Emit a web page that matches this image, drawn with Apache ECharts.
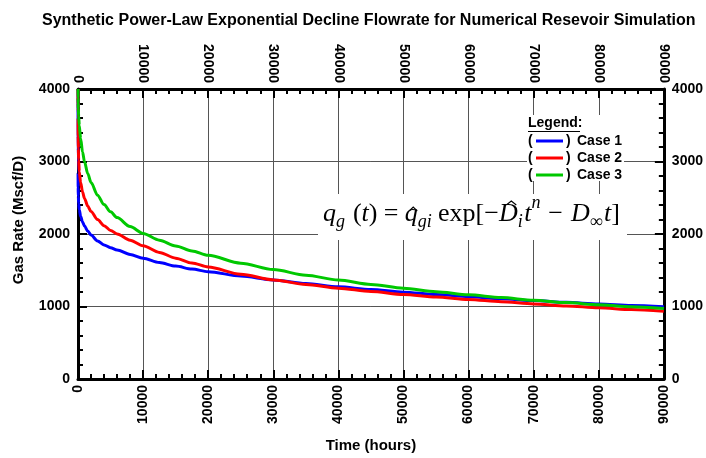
<!DOCTYPE html>
<html>
<head>
<meta charset="utf-8">
<script src="https://cdn.jsdelivr.net/npm/echarts@6/dist/echarts.min.js"></script>
<style>html,body{margin:0;padding:0;background:#fff}#c{width:706px;height:458px}</style>
</head>
<body>
<div id="c"></div>
<script>
const times = [0, 10, 25, 50, 100, 200, 400, 700, 1000, 1500, 2000, 3000, 4000, 5000, 6000, 8000, 10000, 12500, 15000, 17500, 20000, 25000, 30000, 35000, 40000, 45000, 50000, 55000, 60000, 65000, 70000, 75000, 80000, 85000, 90000];
const case1 = [4000, 2850, 2640, 2520, 2420, 2335, 2245, 2165, 2110, 2040, 1985, 1905, 1850, 1812, 1780, 1718, 1665, 1607, 1557, 1516, 1480, 1420, 1366, 1317, 1273, 1234, 1198, 1165, 1135, 1107, 1082, 1058, 1035, 1014, 995];
const case2 = [4000, 3600, 3350, 3180, 3020, 2860, 2710, 2580, 2490, 2385, 2310, 2200, 2115, 2050, 2000, 1915, 1838, 1746, 1667, 1601, 1545, 1445, 1367, 1305, 1253, 1207, 1166, 1130, 1097, 1066, 1036, 1008, 982, 957, 933];
const case3 = [4000, 3877, 3802, 3727, 3627, 3497, 3317, 3131, 2996, 2831, 2711, 2536, 2406, 2306, 2226, 2102, 2008, 1915, 1835, 1766, 1706, 1598, 1510, 1432, 1365, 1305, 1251, 1204, 1162, 1123, 1087, 1054, 1024, 997, 972];
const seriesNames = ['Case 1', 'Case 2', 'Case 3'];
const seriesColors = ['#0000ff', '#ff0000', '#00c800'];
const xTicks = {min: 0, max: 90000, interval: 10000};
const yTicks = {min: 0, max: 4000, interval: 1000};

const chart = echarts.init(document.getElementById('c'), null, {renderer: 'canvas'});
const FONT = 'Liberation Sans';
const SERIF = 'Liberation Serif';
const lab = {fontFamily: FONT, fontWeight: 'bold', fontSize: 14, color: '#000', formatter: v => String(v)};
function xAxisCfg(pos, grid) {
  return {
    type: 'value', position: pos, min: xTicks.min, max: xTicks.max, interval: xTicks.interval,
    axisLine: {show: true, onZero: false, lineStyle: {color: '#000', width: 3}},
    axisTick: {show: true, inside: true, length: 9, lineStyle: {color: '#000', width: 2}},
    minorTick: {show: true, splitNumber: 5, length: 5, lineStyle: {color: '#000', width: 2}},
    axisLabel: Object.assign({rotate: 90, margin: 6, showMinLabel: true, showMaxLabel: true}, lab),
    splitLine: {show: grid, lineStyle: {color: '#555', width: 1}},
    name: pos === 'bottom' ? 'Time (hours)' : '',
    nameLocation: 'middle', nameGap: 59,
    nameTextStyle: {fontFamily: FONT, fontWeight: 'bold', fontSize: 15, color: '#000'}
  };
}
function yAxisCfg(pos, grid) {
  return {
    type: 'value', position: pos, min: yTicks.min, max: yTicks.max, interval: yTicks.interval,
    axisLine: {show: true, onZero: false, lineStyle: {color: '#000', width: 3}},
    axisTick: {show: true, inside: true, length: 9, lineStyle: {color: '#000', width: 2}},
    minorTick: {show: true, splitNumber: 5, length: 5, lineStyle: {color: '#000', width: 2}},
    axisLabel: Object.assign({margin: 8, showMinLabel: true, showMaxLabel: true}, lab),
    splitLine: {show: grid, lineStyle: {color: '#555', width: 1}}
  };
}
const caseData = [case1, case2, case3];
const series = caseData.map((arr, i) => ({
  name: seriesNames[i], type: 'line', xAxisIndex: 0, yAxisIndex: 0,
  data: times.map((t, k) => [t, arr[k]]),
  showSymbol: false, smooth: 0.3, smoothMonotone: 'x',
  lineStyle: {color: seriesColors[i], width: 3}, itemStyle: {color: seriesColors[i]}, z: 5
}));

// Legend (custom graphic)
const LF = 'bold 14px ' + FONT;
const legendEls = [
  {type: 'rect', shape: {x: 527, y: 115, width: 97, height: 66}, style: {fill: '#fff'}, z: 3},
  {type: 'text', x: 528, y: 123, style: {text: 'Legend:', font: LF, fill: '#000', verticalAlign: 'middle'}, z: 4},
  {type: 'line', shape: {x1: 528, y1: 131.5, x2: 580, y2: 131.5}, style: {stroke: '#000', lineWidth: 1}, z: 4}
];
seriesNames.forEach((nm, i) => {
  const yy = 141 + i * 17;
  legendEls.push({type: 'text', x: 528, y: yy, style: {text: '(', font: LF, fill: '#000', verticalAlign: 'middle'}, z: 4});
  legendEls.push({type: 'line', shape: {x1: 536, y1: yy, x2: 563, y2: yy}, style: {stroke: seriesColors[i], lineWidth: 3}, z: 4});
  legendEls.push({type: 'text', x: 566, y: yy, style: {text: ')', font: LF, fill: '#000', verticalAlign: 'middle'}, z: 4});
  legendEls.push({type: 'text', x: 577, y: yy, style: {text: nm, font: LF, fill: '#000', verticalAlign: 'middle'}, z: 4});
});

// Formula laid out sequentially using measured widths
const MAIN = 26, SUB = 18;
const BASE = 223;
const pieces = [
  {t: 'q', s: MAIN, it: true, dy: 0},
  {t: 'g', s: SUB, it: true, dy: 5},
  {gap: 5},
  {t: '(', s: MAIN, it: false, dy: 0},
  {t: 't', s: MAIN, it: true, dy: 0},
  {t: ')', s: MAIN, it: false, dy: 0},
  {gap: 4},
  {t: '=', s: MAIN, it: false, dy: 0},
  {gap: 4},
  {t: 'q', s: MAIN, it: true, dy: 0, hat: 'low'},
  {t: 'gi', s: SUB, it: true, dy: 5},
  {gap: 4},
  {t: 'exp[\u2212', s: MAIN, it: false, dy: 0},
  {t: 'D', s: MAIN, it: true, dy: 0, hat: 'high'},
  {t: 'i', s: SUB, it: true, dy: 5},
  {gap: 1},
  {t: 't', s: MAIN, it: true, dy: 0},
  {t: 'n', s: SUB, it: true, dy: -14},
  {gap: 5},
  {t: '\u2212', s: MAIN, it: false, dy: 0},
  {gap: 5},
  {t: 'D', s: MAIN, it: true, dy: 0},
  {t: '\u221E', s: SUB, it: false, dy: 5},
  {gap: 1},
  {t: 't', s: MAIN, it: true, dy: 0},
  {t: ']', s: MAIN, it: false, dy: 0}
];
const cv = document.createElement('canvas').getContext('2d');
function fontOf(p) { return (p.it ? 'italic ' : '') + p.s + 'px ' + SERIF; }
let natural = 0, gapsTotal = 0;
pieces.forEach(p => {
  if (p.gap !== undefined) { gapsTotal += p.gap; return; }
  cv.font = fontOf(p); p.w = cv.measureText(p.t).width; natural += p.w;
});
const X0 = 323, X1 = 620;
const gapScale = Math.max(0.3, (X1 - X0 - natural) / gapsTotal);
const formulaEls = [
  {type: 'rect', shape: {x: 318, y: 194, width: 309, height: 46}, style: {fill: '#fff'}, z: 3}
];
let cx = X0;
pieces.forEach(p => {
  if (p.gap !== undefined) { cx += p.gap * gapScale; return; }
  const base = BASE + p.dy;
  formulaEls.push({type: 'text', x: cx, y: base - 0.33 * p.s, z: 4,
    style: {text: p.t, font: fontOf(p), fill: '#000', verticalAlign: 'middle'}});
  if (p.hat) {
    const hc = cx + p.w * 0.5 + (p.hat === 'high' ? 3 : 2);
    const hy = p.hat === 'high' ? base - 21 : base - 15;
    const hw = p.hat === 'high' ? 5 : 4;
    formulaEls.push({type: 'polyline', z: 4, shape: {points: [[hc - hw, hy + 3], [hc, hy - 1], [hc + hw, hy + 3]]},
      style: {stroke: '#000', lineWidth: 1.1, fill: null}});
  }
  cx += p.w;
});

const option = {
  backgroundColor: '#fff',
  animation: false,
  title: {text: 'Synthetic Power-Law Exponential Decline Flowrate for Numerical Resevoir Simulation', left: 37, top: 8,
    textStyle: {fontFamily: FONT, fontWeight: 'bold', fontSize: 16, color: '#000'}},
  grid: {left: 78, right: 42, top: 89, bottom: 76, containLabel: false},
  xAxis: [xAxisCfg('bottom', true), xAxisCfg('top', false)],
  yAxis: [yAxisCfg('left', true), yAxisCfg('right', false)],
  series: series,
  graphic: legendEls.concat(formulaEls).concat([
    {type: 'text', x: 19, y: 220, rotation: Math.PI / 2, z: 4,
     style: {text: 'Gas Rate (Mscf/D)', font: 'bold 15px ' + FONT, fill: '#000', align: 'center', verticalAlign: 'middle'}}
  ])
};
chart.setOption(option);
</script>
</body>
</html>
